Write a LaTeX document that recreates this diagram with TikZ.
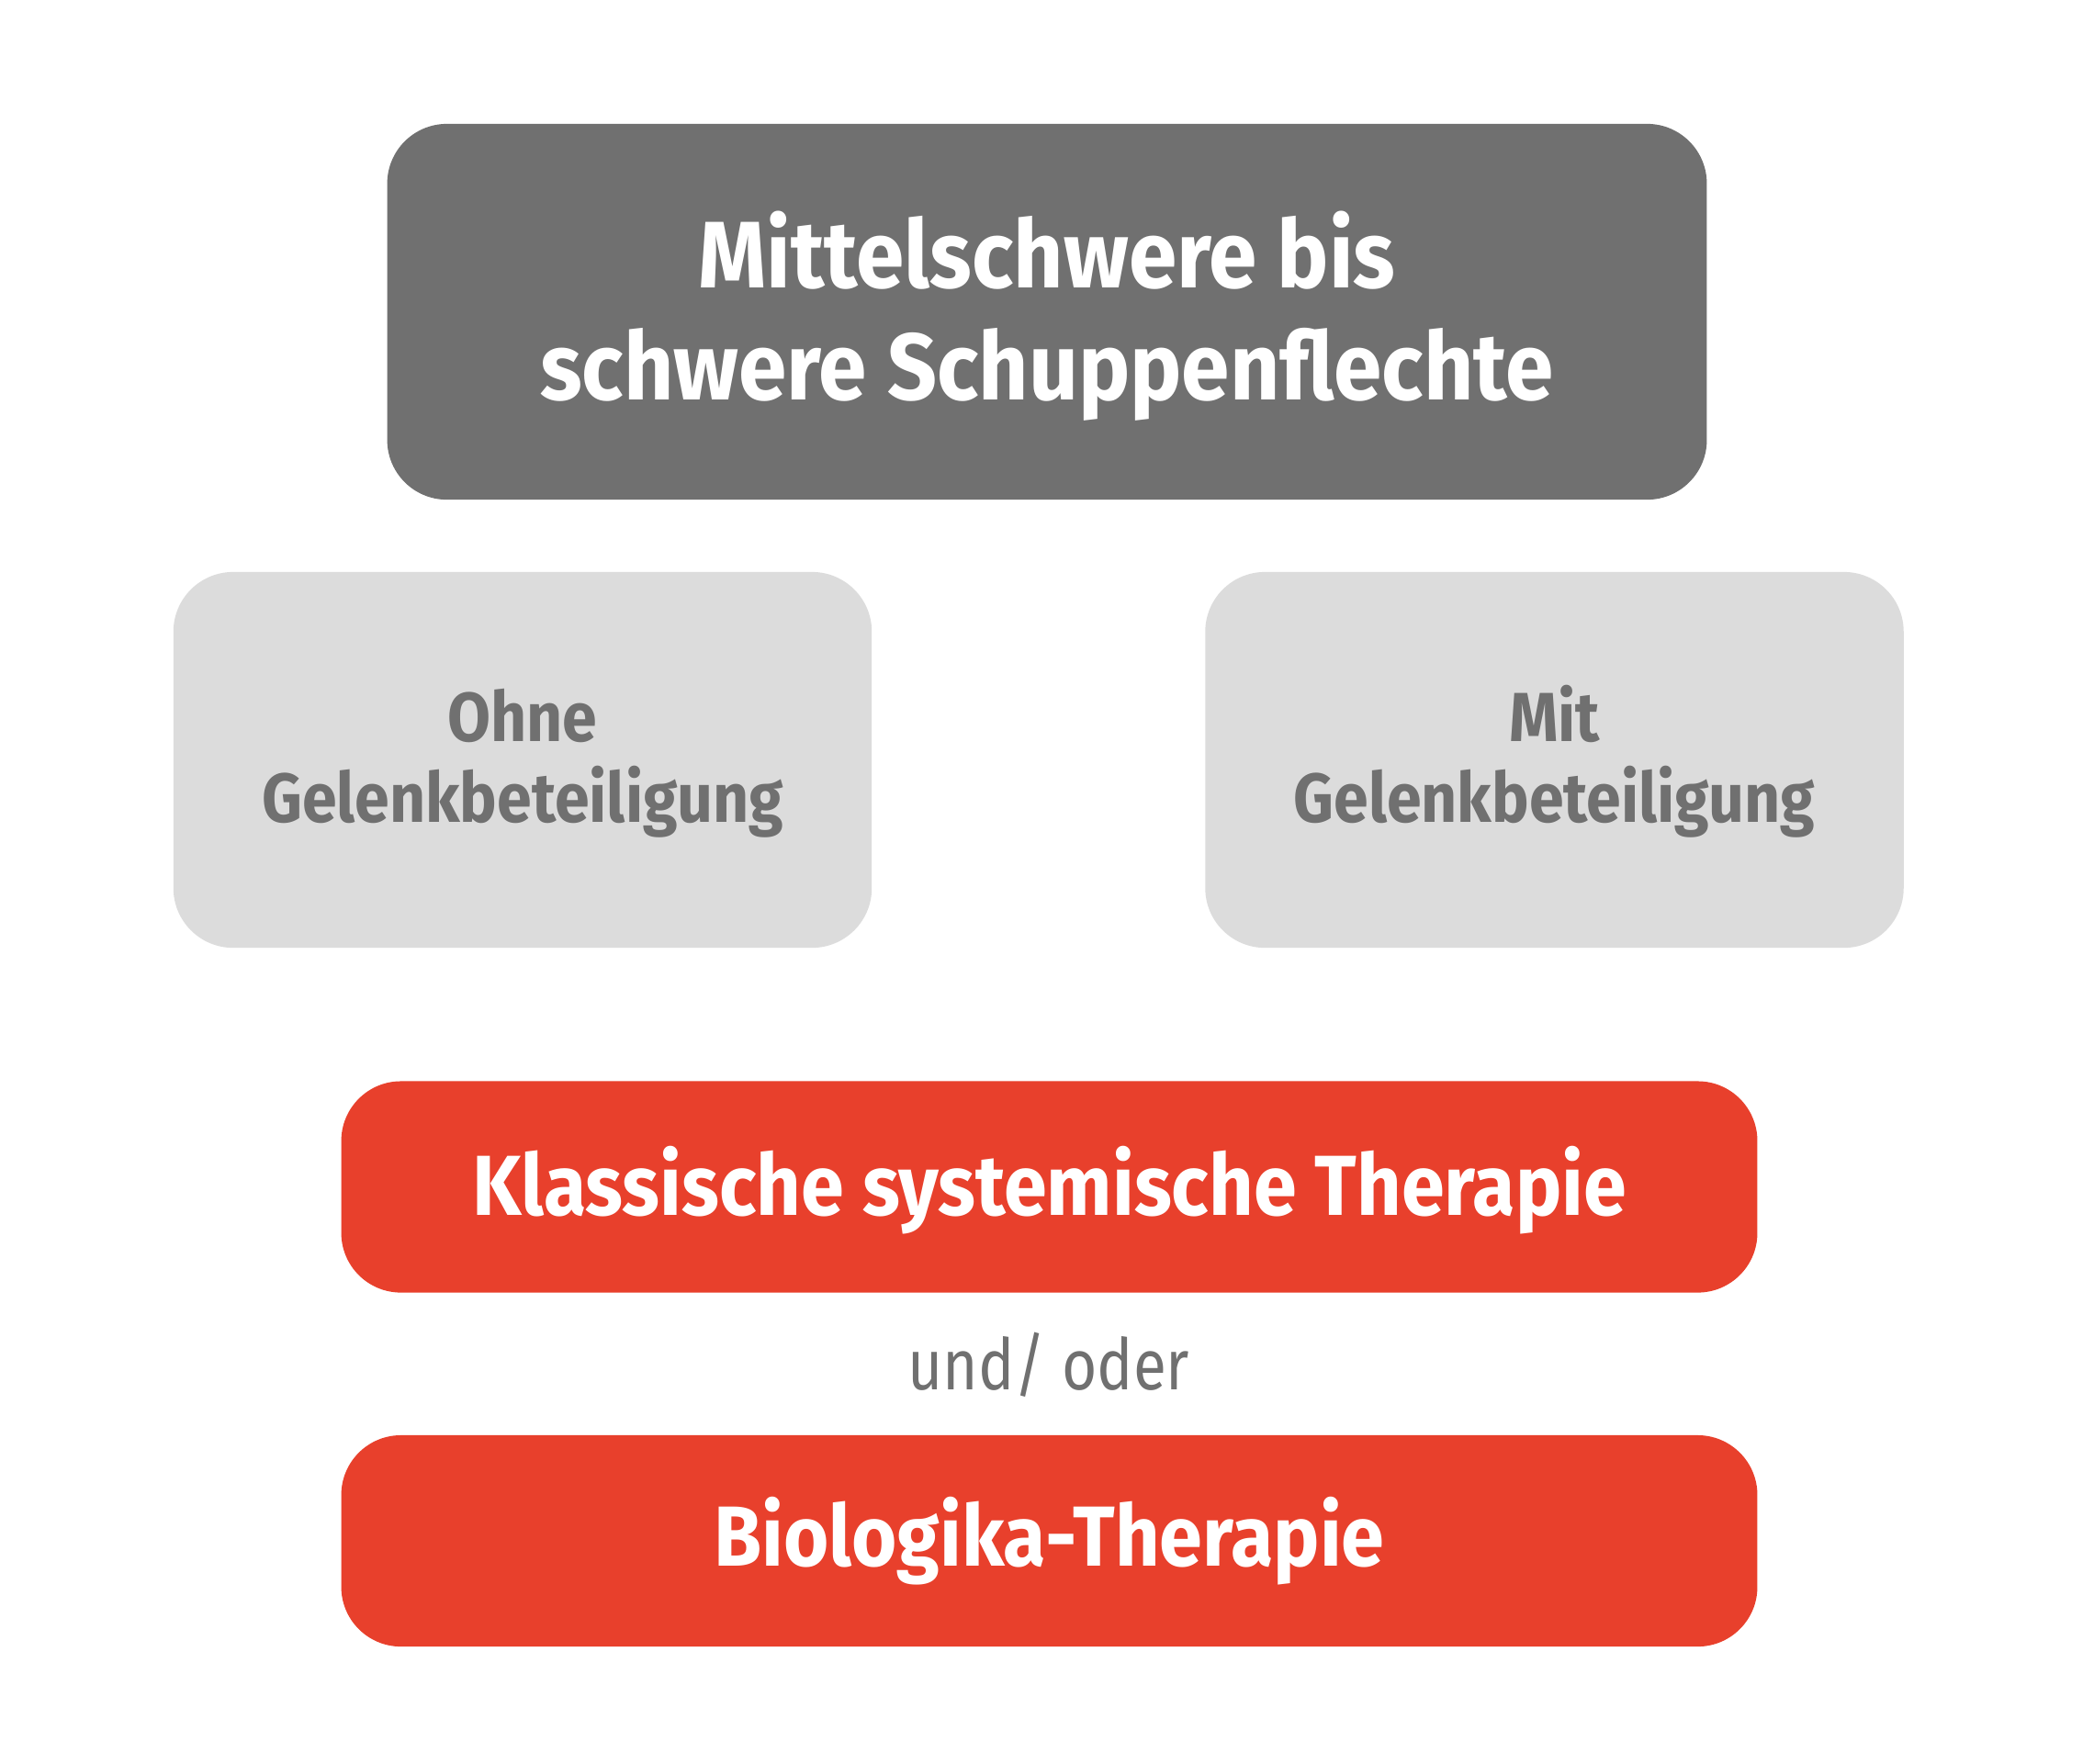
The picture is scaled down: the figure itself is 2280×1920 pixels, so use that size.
\documentclass[tikz,border=0pt]{standalone}
\usepackage{fontspec}
\setmainfont{Fira Sans}
\newfontfamily\topfont[FakeStretch=0.917]{Fira Sans}
\newfontfamily\jointfont[FakeStretch=0.9]{Fira Sans}
\newfontfamily\therapyfont[FakeStretch=0.91]{Fira Sans}
\newfontfamily\boxfont[FakeStretch=0.85]{Fira Sans}
\definecolor{darkgrey}{HTML}{707070}
\definecolor{lightgrey}{HTML}{DCDCDC}
\definecolor{therapyred}{HTML}{E8402C}
% text in a box, moved down by #1
\newcommand\boxtext[2]{\raisebox{0pt}[\dimexpr\height+#1+#1\relax][\depth]{\begin{tabular}{@{}c@{}}#2\end{tabular}}}
\tikzset{
  box/.style={rounded corners=0.65cm, inner sep=0pt, align=center},
  topbox/.style={box, fill=darkgrey, text=white, minimum width=14.36cm, minimum height=4.09cm,
    font=\topfont\bfseries\fontsize{29.3}{34.7}\selectfont},
  jointbox/.style={box, fill=lightgrey, text=darkgrey, minimum width=7.6cm, minimum height=4.09cm,
    font=\jointfont\bfseries\fontsize{21.5}{24.8}\selectfont},
  therapybox/.style={box, fill=therapyred, text=white, minimum width=15.41cm, minimum height=2.3cm,
    font=\therapyfont\bfseries\fontsize{26.4}{30}\selectfont}
}
\begin{document}
\begin{tikzpicture}[x=0.01cm,y=-0.01cm]
\useasboundingbox[fill=white] (0,0) rectangle (2280,1920);
% Schweregrad
\node[topbox] (schwer) at (1140,339.5) {\boxtext{2.9pt}{Mittelschwere bis\\schwere Schuppenflechte}};
% Gelenke
\node[jointbox] (ohne) at (569,827.5) {\boxtext{1.8pt}{Ohne\\Gelenkbeteiligung}};
\node[jointbox] (mit) at (1692.5,827.5) {\boxtext{1.8pt}{Mit\\Gelenkbeteiligung}};
% Therapien
\node[therapybox] (klassisch) at (1142.5,1292.5) {\boxtext{2.7pt}{Klassische systemische Therapie}};
\node[therapybox] (biologika) at (1142.5,1678) {\boxtext{1.7pt}{Biologika-Therapie}};
\node[text=darkgrey, font=\boxfont\fontsize{22}{26}\selectfont, anchor=base] (oder) at (1142,1513) {und/ oder};
\end{tikzpicture}
\end{document}
